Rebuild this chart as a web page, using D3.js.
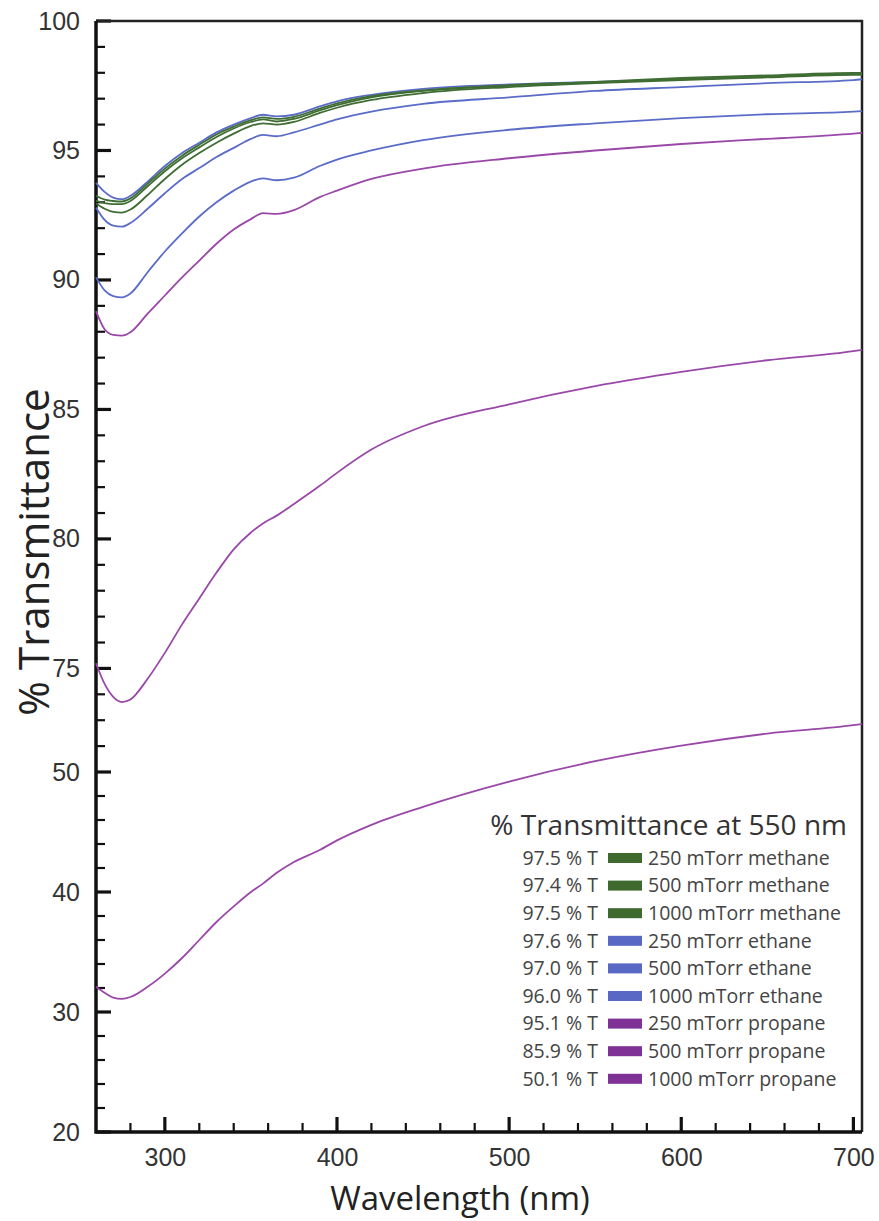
<!DOCTYPE html>
<html>
<head>
<meta charset="utf-8">
<script src="https://cdn.jsdelivr.net/npm/d3@7"></script>
<style>
  body { margin: 0; background: #fff; }
  .tick text { font-family: "Liberation Sans", Arial, sans-serif; font-size: 25px; fill: #333; }
</style>
</head>
<body>
<div id="chart"></div>
<script>

// wavelength samples (nm) shared by every series
const wavelengths = [260, 265, 270, 275, 280, 290, 300, 310, 320, 330, 340, 350, 357, 365, 375, 390, 400, 420, 450, 500, 550, 600, 650, 700, 705];

// % transmittance
const methane250 = [93.25, 93.10, 93.05, 93.03, 93.15, 93.72, 94.30, 94.80, 95.22, 95.62, 95.92, 96.17, 96.28, 96.22, 96.30, 96.62, 96.82, 97.10, 97.32, 97.52, 97.65, 97.80, 97.90, 98.00, 98.00];
const methane500 = [93.05, 92.97, 92.93, 92.93, 93.05, 93.62, 94.20, 94.70, 95.12, 95.52, 95.85, 96.10, 96.20, 96.12, 96.22, 96.55, 96.75, 97.05, 97.30, 97.50, 97.62, 97.75, 97.85, 97.95, 97.95];
const methane1000 = [92.95, 92.75, 92.63, 92.60, 92.72, 93.28, 93.90, 94.45, 94.90, 95.30, 95.65, 95.95, 96.05, 96.00, 96.10, 96.45, 96.65, 96.95, 97.22, 97.45, 97.60, 97.72, 97.82, 97.92, 97.92];
const ethane250 = [93.75, 93.40, 93.18, 93.12, 93.25, 93.80, 94.40, 94.90, 95.30, 95.70, 96.00, 96.25, 96.38, 96.32, 96.38, 96.70, 96.90, 97.15, 97.38, 97.55, 97.65, 97.75, 97.85, 97.95, 97.95];
const ethane500 = [92.80, 92.32, 92.10, 92.06, 92.20, 92.75, 93.35, 93.90, 94.32, 94.75, 95.10, 95.45, 95.60, 95.55, 95.70, 96.00, 96.20, 96.50, 96.80, 97.05, 97.30, 97.45, 97.60, 97.72, 97.75];
const ethane1000 = [90.10, 89.60, 89.38, 89.33, 89.48, 90.30, 91.10, 91.80, 92.45, 93.00, 93.45, 93.80, 93.92, 93.85, 93.95, 94.40, 94.65, 95.00, 95.40, 95.80, 96.05, 96.25, 96.40, 96.50, 96.52];
const propane250 = [88.80, 88.10, 87.88, 87.85, 87.98, 88.70, 89.40, 90.10, 90.75, 91.40, 91.95, 92.35, 92.58, 92.55, 92.70, 93.20, 93.45, 93.90, 94.30, 94.70, 95.00, 95.25, 95.45, 95.65, 95.68];
const propane500 = [75.20, 74.40, 73.90, 73.70, 73.80, 74.60, 75.60, 76.70, 77.70, 78.70, 79.60, 80.25, 80.60, 80.90, 81.35, 82.05, 82.55, 83.45, 84.35, 85.20, 85.90, 86.45, 86.90, 87.25, 87.30];
const propane1000 = [32.10, 31.60, 31.20, 31.10, 31.25, 32.10, 33.20, 34.50, 36.00, 37.50, 38.80, 40.00, 40.70, 41.60, 42.50, 43.50, 44.30, 45.60, 47.10, 49.20, 50.90, 52.20, 53.20, 53.90, 54.00];

// legend
const seriesLabels = ["250 mTorr methane", "500 mTorr methane", "1000 mTorr methane",
                      "250 mTorr ethane", "500 mTorr ethane", "1000 mTorr ethane",
                      "250 mTorr propane", "500 mTorr propane", "1000 mTorr propane"];
const seriesAt550 = ["97.5", "97.4", "97.5", "97.6", "97.0", "96.0", "95.1", "85.9", "50.1"];
const seriesGas = ["methane", "methane", "methane", "ethane", "ethane", "ethane", "propane", "propane", "propane"];

// axis ticks
const xMajor = [300, 400, 500, 600, 700];
const yHighMajor = [75, 80, 85, 90, 95, 100];
const yLowMajor = [20, 30, 40, 50];


const width = 879;
const height = 1221;
const plot = {left: 96, right: 862, top: 21, bottom: 1132, brk: 772};

const lineColor = {methane: "#3f6d33", ethane: "#5b6cc8", propane: "#9a48a8"};
const swatchColor = {methane: "#3e6a2e", ethane: "#5868c4", propane: "#7f3196"};

const svg = d3.select("#chart")
  .append("svg")
  .attr("width", width)
  .attr("height", height);

// x scale, and a broken y axis: upper part 71-100, lower part 20-50
const xScale = d3.scaleLinear().domain([260, 705]).range([plot.left, plot.right]);
const yHigh = d3.scaleLinear().domain([71, 100]).range([plot.brk, plot.top]);
const yLow = d3.scaleLinear().domain([20, 50]).range([plot.bottom, plot.brk]);

const allValues = [methane250, methane500, methane1000, ethane250, ethane500, ethane1000, propane250, propane500, propane1000];
const series = allValues.map((vals, i) => ({
  gas: seriesGas[i],
  scale: i === 8 ? yLow : yHigh,
  points: wavelengths.map((w, j) => ({w: w, v: vals[j]}))
}));

/* axes: labels from d3 axes, tick marks drawn inward */

svg.append("g")
  .attr("transform", `translate(${plot.left},0)`)
  .call(d3.axisLeft(yHigh).tickValues(yHighMajor).tickSize(0).tickPadding(16))
  .call(g => g.select(".domain").remove());

svg.append("g")
  .attr("transform", `translate(${plot.left},0)`)
  .call(d3.axisLeft(yLow).tickValues(yLowMajor).tickSize(0).tickPadding(16))
  .call(g => g.select(".domain").remove());

svg.append("g")
  .attr("transform", `translate(0,${plot.bottom})`)
  .call(d3.axisBottom(xScale).tickValues(xMajor).tickSize(0).tickPadding(16))
  .call(g => g.select(".domain").remove());

const yTicks = [
  ...yHighMajor.map(v => ({pos: yHigh(v), len: 15, w: 3.2})),
  ...d3.range(72, 100).filter(v => v % 5 !== 0).map(v => ({pos: yHigh(v), len: 9, w: 2.2})),
  ...yLowMajor.map(v => ({pos: yLow(v), len: 15, w: 3.2})),
  ...d3.range(22, 50, 2).filter(v => v % 10 !== 0).map(v => ({pos: yLow(v), len: 9, w: 2.2}))
];

svg.append("g")
  .selectAll("line")
  .data(yTicks)
  .enter()
  .append("line")
    .attr("x1", plot.left)
    .attr("x2", d => plot.left + d.len)
    .attr("y1", d => d.pos)
    .attr("y2", d => d.pos)
    .attr("stroke", "#111")
    .attr("stroke-width", d => d.w);

const xTicks = [
  ...xMajor.map(v => ({pos: xScale(v), len: 15, w: 3.2})),
  ...d3.range(280, 701, 20).filter(v => v % 100 !== 0).map(v => ({pos: xScale(v), len: 9, w: 2.2}))
];

svg.append("g")
  .selectAll("line")
  .data(xTicks)
  .enter()
  .append("line")
    .attr("x1", d => d.pos)
    .attr("x2", d => d.pos)
    .attr("y1", plot.bottom)
    .attr("y2", d => plot.bottom - d.len)
    .attr("stroke", "#111")
    .attr("stroke-width", d => d.w);

// frame
svg.append("path")
  .attr("d", `M${plot.left},${plot.top}H${plot.right}V${plot.bottom}`)
  .attr("fill", "none")
  .attr("stroke", "#222")
  .attr("stroke-width", 2.5);
svg.append("path")
  .attr("d", `M${plot.left},${plot.top}V${plot.bottom}H${plot.right}`)
  .attr("fill", "none")
  .attr("stroke", "#111")
  .attr("stroke-width", 3.5);

/* lines */

const line = (s) => d3.line()
  .x(d => xScale(d.w))
  .y(d => s.scale(d.v))
  .curve(d3.curveMonotoneX)(s.points);

svg.append("g")
  .selectAll("path")
  .data(series.slice().reverse())
  .enter()
  .append("path")
    .attr("d", d => line(d))
    .attr("fill", "none")
    .attr("stroke", d => lineColor[d.gas])
    .attr("stroke-width", 1.8);

/* axis titles */

svg.append("text")
  .attr("transform", "translate(49,552) rotate(-90)")
  .attr("text-anchor", "middle")
  .attr("font-family", "'Open Sans', sans-serif")
  .attr("font-size", 42)
  .attr("fill", "#222")
  .text("% Transmittance");

svg.append("text")
  .attr("x", 460)
  .attr("y", 1210)
  .attr("text-anchor", "middle")
  .attr("font-family", "'Open Sans', sans-serif")
  .attr("font-size", 33)
  .attr("fill", "#222")
  .text("Wavelength (nm)");

/* legend */

const legend = svg.append("g")
  .attr("font-family", "'Open Sans', sans-serif");

legend.append("text")
  .attr("x", 847)
  .attr("y", 835)
  .attr("text-anchor", "end")
  .attr("font-size", 28)
  .attr("fill", "#333")
  .text("% Transmittance at 550 nm");

const rows = legend.selectAll(".row")
  .data(seriesLabels)
  .enter()
  .append("g")
    .attr("class", "row")
    .attr("transform", (d, i) => `translate(0,${858 + i * 27.6})`);

rows.append("text")
  .attr("x", 598)
  .attr("dy", "0.35em")
  .attr("text-anchor", "end")
  .attr("font-size", 19.5)
  .attr("fill", "#444")
  .text((d, i) => seriesAt550[i] + " % T");

rows.append("rect")
  .attr("x", 608)
  .attr("y", -5)
  .attr("width", 34)
  .attr("height", 10)
  .attr("fill", (d, i) => swatchColor[seriesGas[i]]);

rows.append("text")
  .attr("x", 648)
  .attr("dy", "0.35em")
  .attr("font-size", 19.5)
  .attr("fill", "#444")
  .text(d => d);

</script>
</body>
</html>
